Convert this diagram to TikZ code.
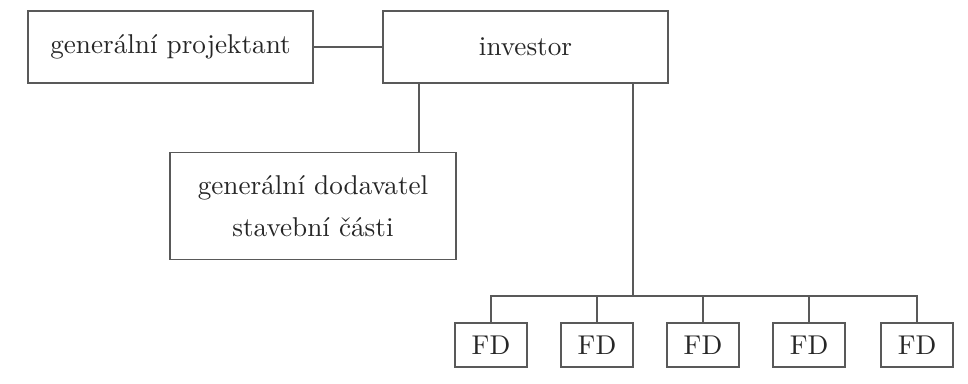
\documentclass[tikz,border=0pt]{standalone}
\usepackage{amsmath}
\usepackage{tikz}

\begin{document}
\begin{tikzpicture}[x=0.01292cm, y=0.01292cm]
\tikzstyle{every node}+=[inner sep=0pt]
\tikzstyle{box}=[draw=black!65, line width=0.6pt, text=black!85, align=center]
\tikzstyle{wire}=[draw=black!65, line width=0.6pt]
\useasboundingbox (0,0) rectangle (968,-383);
\node [box, minimum width=3.68cm, minimum height=0.93cm] (proj) at (170.5,-47) {generální projektant};
\node [box, minimum width=3.68cm, minimum height=0.93cm] (inv) at (525.5,-47) {investor};
\node [box, minimum width=3.69cm, minimum height=1.38cm] (dod) at (313,-206) {generální dodavatel\\[3.5pt]stavební části};
\foreach \i/\x in {1/491,2/597,3/703,4/809,5/917}
  \node [box, minimum width=0.93cm, minimum height=0.57cm] (fd\i) at (\x,-345) {FD};
\coordinate (dl) at (419,0);
\coordinate (split) at (633,-296);
\draw [wire] (proj.east) -- (inv.west);
\draw [wire] (inv.south -| dl) -- (dod.north -| dl);
\draw [wire] (inv.south -| split) -- (split);
\foreach \i in {1,...,5}
  \draw [wire] (fd\i.north) |- (split);
\end{tikzpicture}
\end{document}
